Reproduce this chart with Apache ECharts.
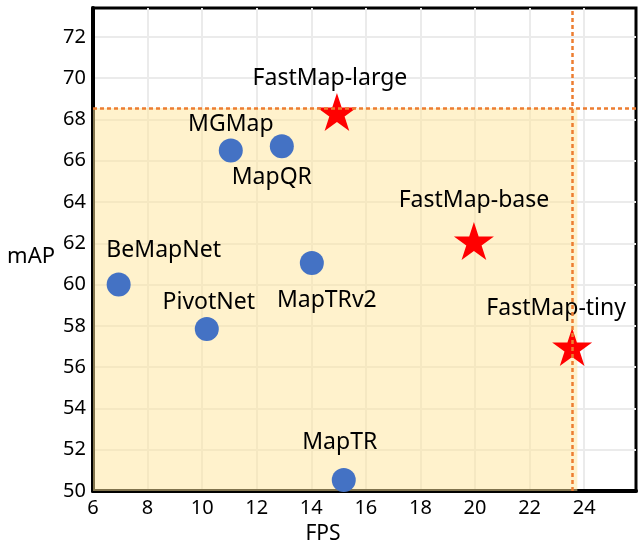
<!DOCTYPE html>
<html>
<head>
<meta charset="utf-8">
<script src="https://cdn.jsdelivr.net/npm/echarts@6/dist/echarts.min.js"></script>
<style>
    html, body {margin:0;padding:0;background:#ffffff;}
    #chart {width:640px;height:544px;}
</style>
</head>
<body>
<div id="chart"></div>
<script>
    // baselines (blue dots)
    var baseNames = ['MGMap', 'MapQR', 'BeMapNet', 'PivotNet', 'MapTRv2', 'MapTR'];
    var baseFps = [11.05, 12.92, 6.94, 10.17, 14.02, 15.19];
    var baseMap = [66.5, 66.7, 60.0, 57.85, 61.05, 50.53];

    // FastMap variants (red stars)
    var oursNames = ['FastMap-large', 'FastMap-base', 'FastMap-tiny'];
    var oursFps = [14.94, 19.96, 23.56];
    var oursMap = [68.36, 62.11, 56.98];

    // reference lines + shaded region
    var refFps = 23.56;
    var refMap = 68.56;
    var shadeFps = [6, 23.75];
    var shadeMap = [50, 68.56];

    // axes
    var xMin = 6, xMax = 25.9, xStep = 2;
    var yMin = 50, yMax = 73.4, yStep = 2;

    // label placement (offset of text centre from the marker centre)
    var labelOffset = {
        'MGMap': [0, -26],
        'MapQR': [-10, 31],
        'BeMapNet': [45, -34],
        'PivotNet': [2, -27],
        'MapTRv2': [15, 38],
        'MapTR': [-4, -38],
        'FastMap-large': [-7, -34],
        'FastMap-base': [0, -41],
        'FastMap-tiny': [-16, -38]
    };

    var starPath = 'path://M50 0 L61.23 34.55 L97.55 34.55 L68.17 55.9 L79.39 90.45 L50 69.1 L20.61 90.45 L31.83 55.9 L2.45 34.55 L38.77 34.55 Z';
    var font = 'Noto Sans';

    function build(names, xs, ys) {
        return names.map(function (n, i) {
            return {
                name: n,
                value: [xs[i], ys[i]],
                label: {offset: labelOffset[n]}
            };
        });
    }

    function tickFmt(v) {
        return (Math.abs(v / 2 - Math.round(v / 2)) < 1e-6) ? String(v) : '';
    }

    var chart = echarts.init(document.getElementById('chart'), null, {renderer: 'canvas'});

    var pointLabel = {
        show: true,
        position: 'inside',
        formatter: '{b}',
        color: '#000',
        fontSize: 23,
        fontFamily: font
    };

    var option = {
        animation: false,
        backgroundColor: '#ffffff',
        grid: {
            left: 93, right: 4, top: 8, bottom: 53,
            outerBoundsMode: 'none',
            show: true,
            borderColor: '#000000',
            borderWidth: 3
        },
        xAxis: {
            type: 'value',
            min: xMin, max: xMax, interval: xStep,
            name: 'FPS',
            nameLocation: 'middle',
            nameGap: 33,
            nameTextStyle: {color: '#000', fontSize: 21, fontFamily: font, padding: [0, 83, 0, 0]},
            axisLine: {show: true, lineStyle: {color: '#000', width: 4}},
            axisTick: {show: false},
            axisLabel: {color: '#000', fontSize: 20, fontFamily: font, margin: 7, formatter: tickFmt},
            splitLine: {show: true, showMinLine: false, showMaxLine: false, lineStyle: {color: '#ebebeb', width: 2}}
        },
        yAxis: {
            type: 'value',
            min: yMin, max: yMax, interval: yStep,
            name: 'mAP',
            nameLocation: 'middle',
            nameRotate: 0,
            nameGap: 38,
            nameTextStyle: {color: '#000', fontSize: 22, fontFamily: font, verticalAlign: 'top', lineHeight: 14},
            axisLine: {show: true, lineStyle: {color: '#000', width: 4}},
            axisTick: {show: false},
            axisLabel: {color: '#000', fontSize: 20, fontFamily: font, margin: 7, formatter: tickFmt},
            splitLine: {show: true, showMinLine: false, showMaxLine: false, lineStyle: {color: '#ebebeb', width: 2}}
        },
        series: [
            {
                name: 'baselines',
                type: 'scatter',
                symbol: 'circle',
                symbolSize: 24,
                itemStyle: {color: '#4472c4', opacity: 1},
                label: pointLabel,
                data: build(baseNames, baseFps, baseMap),
                markArea: {
                    silent: true,
                    itemStyle: {color: 'rgba(255,229,153,0.5)'},
                    data: [[{coord: [shadeFps[0], shadeMap[0]]}, {coord: [shadeFps[1], shadeMap[1]]}]]
                },
                markLine: {
                    silent: true,
                    symbol: 'none',
                    label: {show: false},
                    lineStyle: {color: '#ed7d31', width: 2.5, type: [4, 3]},
                    data: [{yAxis: refMap}, {xAxis: refFps}]
                },
                z: 3
            },
            {
                name: 'FastMap',
                type: 'scatter',
                symbol: starPath,
                symbolKeepAspect: true,
                symbolSize: 40,
                itemStyle: {color: '#ff0000', opacity: 1},
                label: pointLabel,
                data: build(oursNames, oursFps, oursMap),
                z: 4
            }
        ]
    };

    chart.setOption(option);
</script>
</body>
</html>
